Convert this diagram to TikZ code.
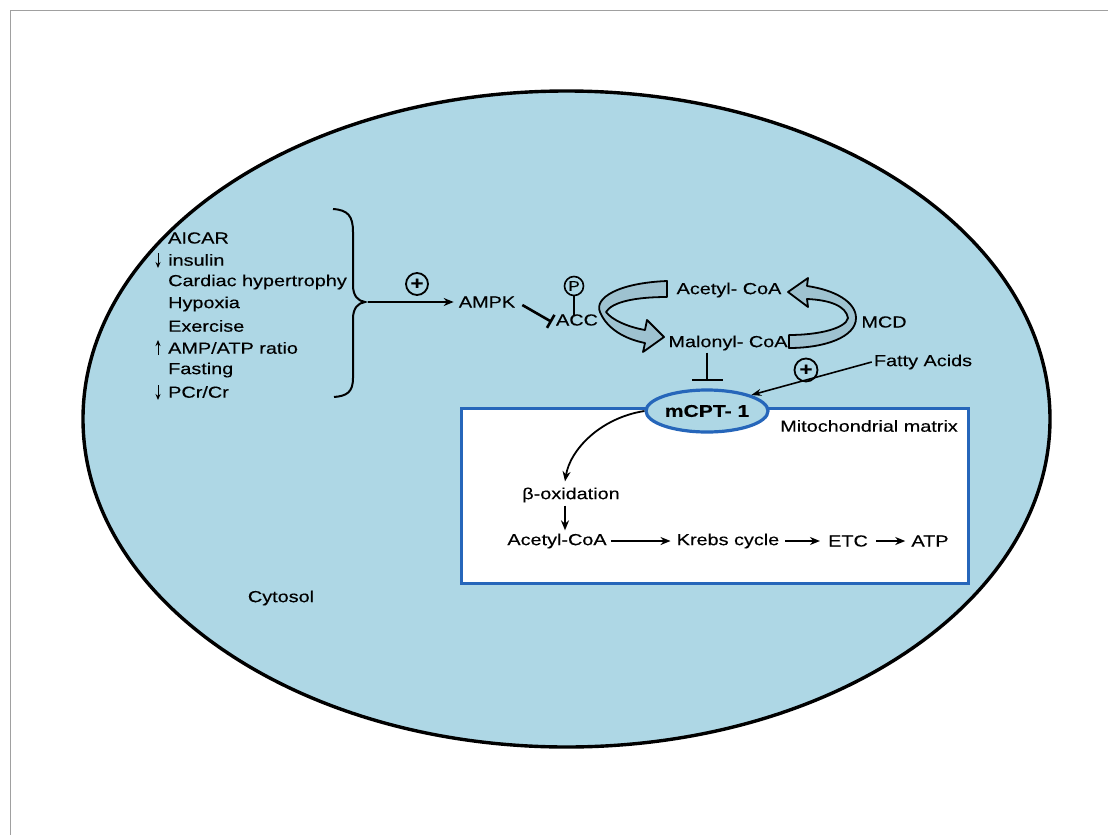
\documentclass[tikz,border=0pt]{standalone}
\usepackage{fontspec}
\setmainfont{Liberation Sans}[FakeStretch=1.24,FakeBold=0.3]
\usetikzlibrary{arrows.meta,shapes.geometric}
\definecolor{cyto}{RGB}{174,215,229}
\definecolor{mitoblue}{RGB}{38,102,186}
\definecolor{ribbon}{RGB}{158,194,208}
\definecolor{framegray}{RGB}{160,160,160}
\tikzset{
  lbl/.style={inner sep=0pt, font=\fontsize{16}{19}\selectfont},
  plus/.style={circle, draw, line width=1.8pt, inner sep=0pt, minimum size=22pt, font=\fontsize{18}{18}\selectfont\bfseries},
  act/.style={line width=1.8pt, -{Stealth[length=10pt,width=8pt]}},
  inh/.style={line width=2.6pt, -{Bar[width=15pt,line width=2.6pt]}},
  small/.style={line width=1pt, -{Stealth[length=6pt,width=5pt]}},
  rib/.style={draw, fill=ribbon, line width=1.8pt, line join=round},
}
\begin{document}
\begin{tikzpicture}[x=1pt,y=-1pt]
\useasboundingbox (0,0) rectangle (1108,835);
% frame
\draw[framegray, line width=1pt] (10,835) -- (10,10) -- (1108,10);
% cell
\draw[fill=cyto, line width=3.4pt] (566.5,419) ellipse [x radius=483.5pt, y radius=328pt];
% mitochondrion
\draw[mitoblue, fill=white, line width=3pt] (461,408) rectangle (968,583);
\node[ellipse, draw=mitoblue, fill=cyto, line width=3.2pt, minimum width=122pt, minimum height=42pt, inner sep=0pt, font=\fontsize{17}{17}\selectfont\bfseries] (cpt) at (707,411) {mCPT- 1};
\node[lbl, anchor=east] (matrix) at (958,426) {Mitochondrial matrix};

% list
\node[lbl, anchor=west] (l1) at (168,238) {AICAR};
\node[lbl, anchor=west] (l2) at (168,260) {insulin};
\node[lbl, anchor=west] (l3) at (168,282) {Cardiac hypertrophy};
\node[lbl, anchor=west] (l4) at (168,304) {Hypoxia};
\node[lbl, anchor=west] (l5) at (168,326) {Exercise};
\node[lbl, anchor=west] (l6) at (168,348) {AMP/ATP ratio};
\node[lbl, anchor=west] (l7) at (168,370) {Fasting};
\node[lbl, anchor=west] (l8) at (168,392) {PCr/Cr};
\draw[small] ([xshift=-10pt,yshift=7pt]l2.west) -- ([xshift=-10pt,yshift=-8pt]l2.west);
\draw[small] ([xshift=-10pt,yshift=-7pt]l6.west) -- ([xshift=-10pt,yshift=8pt]l6.west);
\draw[small] ([xshift=-10pt,yshift=7pt]l8.west) -- ([xshift=-10pt,yshift=-8pt]l8.west);

% brace
\coordinate (tip) at (365,302);
\draw[line width=2pt] (333,209) .. controls (348,210) and (353,216) .. (353,232) -- (353,285)
  .. controls (353,296) and (358,301) .. (tip) .. controls (358,303) and (353,308) .. (353,319)
  -- (353,378) .. controls (353,392) and (347,396) .. (334,397);

% AMPK, ACC
\node[lbl] (ampk) at (487,302) {AMPK};
\node[plus] (p1) at (417,284) {+};
\draw[act, line width=2.4pt] ([xshift=3pt]tip) -- ([xshift=-5pt]ampk.west);
\node[lbl] (acc) at (577,320) {ACC};
\node[circle, draw, line width=1.6pt, inner sep=0pt, minimum size=19pt, font=\fontsize{14}{14}\selectfont] (ph) at (574,286) {P};
\draw[line width=2pt] (ph.south) -- ([xshift=-3pt,yshift=-1pt]acc.north);
\draw[inh] ([xshift=7pt,yshift=-3pt]ampk.east) -- ([xshift=-4pt,yshift=-2pt]acc.west);

% cycle
\node[lbl] (acoa) at (729,290) {Acetyl- CoA};
\node[lbl] (mcoa) at (728,343) {Malonyl- CoA};
\node[lbl] (mcd) at (884,322) {MCD};
% left ribbon
\draw[rib] (667,281) .. controls (618,283) and (594,298) .. (600,312)
  .. controls (607,329) and (625,339) .. (645,343)
  -- (643,352) -- (664,337) -- (647,320) -- (645,330)
  .. controls (628,327) and (612,320) .. (606,312)
  .. controls (612,302) and (635,297) .. (667,297) -- cycle;
% right ribbon
\draw[rib] (788,292) -- (808,278) -- (807,286)
  .. controls (835,290) and (856,302) .. (856,318)
  .. controls (856,337) and (825,348) .. (789,348) -- (789,335)
  .. controls (820,335) and (846,328) .. (848,318)
  .. controls (846,306) and (830,300) .. (807,299) -- (808,307) -- cycle;

% malonyl inhibits CPT
\draw[line width=2.6pt, -{Bar[width=31pt,line width=2.6pt]}] ([yshift=-2pt]mcoa.south -| cpt.north) -- ([yshift=7pt]cpt.north);

% fatty acids
\node[lbl] (fa) at (923,362) {Fatty Acids};
\node[plus, minimum size=23pt] (p2) at (806,370) {+};
\draw[line width=1.6pt, -{Stealth[length=10pt,width=7pt]}] ([xshift=-2pt]fa.west) -- (cpt.north east);

% matrix pathway
\node[lbl] (box) at (571,495) {β-oxidation};
\node[lbl] (ac2) at (557,541) {Acetyl-CoA};
\node[lbl] (krebs) at (728,541) {Krebs cycle};
\node[lbl] (etc) at (848,541) {ETC};
\node[lbl] (atp) at (930,541) {ATP};
\draw[act] (cpt.west) .. controls (600,418) and (570,450) .. ([xshift=-6pt,yshift=6pt]box.north);
\draw[act] ([xshift=-6pt,yshift=-3pt]box.south) -- ([xshift=8pt,yshift=3pt]ac2.north);
\draw[act] ([xshift=4pt]ac2.east) -- ([xshift=-6pt]krebs.west);
\draw[act] ([xshift=6pt]krebs.east) -- ([xshift=-8pt]etc.west);
\draw[act] ([xshift=8pt]etc.east) -- ([xshift=-6pt]atp.west);

\node[lbl] (cyt) at (281,598) {Cytosol};
\end{tikzpicture}
\end{document}
